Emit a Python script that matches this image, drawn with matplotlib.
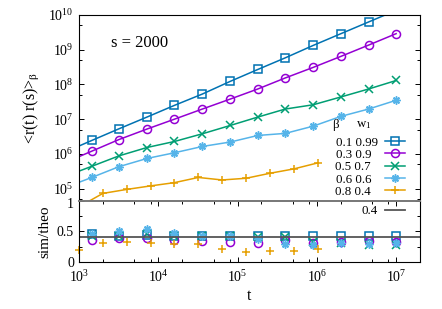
import matplotlib
matplotlib.use("Agg")
import matplotlib.pyplot as plt
import matplotlib.transforms as mtransforms
from matplotlib.ticker import LogLocator, LogFormatterMathtext, MultipleLocator, NullFormatter

plt.rcParams['font.family'] = ['Liberation Serif', 'DejaVu Serif']
plt.rcParams['mathtext.fontset'] = 'custom'
plt.rcParams['mathtext.rm'] = 'Liberation Serif'
plt.rcParams['mathtext.it'] = 'Liberation Serif:italic'
plt.rcParams['font.size'] = 9

# data
t = [6.5e2, 1.45e3, 3.2e3, 7.2e3, 1.6e4, 3.6e4, 8.1e4, 1.8e5, 4.0e5, 9.0e5, 2.0e6, 4.5e6, 1.0e7]
corr_01 = [1.1e6, 2.44e6, 5.3e6, 1.15e7, 2.5e7, 5.3e7, 1.23e8, 2.7e8, 5.84e8, 1.33e9, 2.88e9, 6.3e9, 1.36e10]
corr_03 = [5.5e5, 1.2e6, 2.6e6, 5.2e6, 1.0e7, 1.96e7, 3.8e7, 7.4e7, 1.54e8, 3.1e8, 6.4e8, 1.36e9, 2.9e9]
corr_05 = [2.2e5, 4.4e5, 8.8e5, 1.53e6, 2.28e6, 3.8e6, 6.6e6, 1.15e7, 1.96e7, 2.6e7, 4.35e7, 7.4e7, 1.3e8]
corr_06 = [1.05e5, 2.1e5, 4.3e5, 7.4e5, 1.08e6, 1.64e6, 2.2e6, 3.4e6, 3.9e6, 6.3e6, 1.2e7, 1.96e7, 3.5e7]
t_08 = [1e3, 2e3, 4e3, 8e3, 1.6e4, 3.2e4, 6.4e4, 1.28e5, 2.56e5, 5.12e5, 1.024e6]
corr_08 = [3.0e4, 7.3e4, 9.5e4, 1.2e5, 1.49e5, 2.1e5, 1.78e5, 1.99e5, 2.77e5, 3.7e5, 5.5e5]

t_ratio = t[1:]
ratio_01 = [0.45, 0.43, 0.44, 0.43, 0.43, 0.43, 0.42, 0.43, 0.42, 0.42, 0.42, 0.42]
ratio_03 = [0.36, 0.39, 0.39, 0.36, 0.34, 0.33, 0.31, 0.36, 0.31, 0.33, 0.35, 0.33]
ratio_05 = [0.42, 0.43, 0.45, 0.42, 0.42, 0.42, 0.40, 0.40, 0.32, 0.31, 0.28, 0.28]
ratio_06 = [0.45, 0.50, 0.54, 0.47, 0.43, 0.42, 0.37, 0.30, 0.28, 0.31, 0.30, 0.31]
ratio_08 = [0.19, 0.31, 0.33, 0.31, 0.29, 0.30, 0.21, 0.17, 0.18, 0.18, 0.21]
theo = 0.4

labels = ["0.1 0.99", "0.3 0.9\u2007", "0.5 0.7\u2007", "0.6 0.6\u2007", "0.8 0.4\u2007"]
colors = ['#0072b2', '#9400d3', '#009e73', '#56b4e9', '#e69f00']
markers = ['s', 'o', 'x', (8, 2, 0), '+']

fig = plt.figure(figsize=(4.42, 3.09), dpi=100)
ax = fig.add_axes([0.1787, 0.3505, 0.7715, 0.601])
ax2 = fig.add_axes([0.1787, 0.152, 0.7715, 0.1985])

top_x = [t, t, t, t, t_08]
top_y = [corr_01, corr_03, corr_05, corr_06, corr_08]
bot_x = [t_ratio, t_ratio, t_ratio, t_ratio, t_08]
bot_y = [ratio_01, ratio_03, ratio_05, ratio_06, ratio_08]

handles = []
for xs, ys, c, m in zip(top_x, top_y, colors, markers):
    h, = ax.plot(xs, ys, color=c, marker=m, ms=5.8, mfc='none', mew=1.1, lw=1.1)
    handles.append(h)
for xs, ys, c, m in zip(bot_x, bot_y, colors, markers):
    ax2.plot(xs, ys, ls='none', color=c, marker=m, ms=5.8, mfc='none', mew=1.1, clip_on=False)
hl = ax2.axhline(theo, color='#555555', lw=1.3)

for a in (ax, ax2):
    a.set_xscale('log')
    a.set_xlim(1e3, 2e7)
    a.tick_params(which='both', direction='in', right=True, width=0.7)
    a.tick_params(which='major', length=3.5, labelsize=10)
    a.tick_params(which='minor', length=2)
    a.xaxis.set_major_locator(LogLocator(base=10, numticks=20))
    a.xaxis.set_minor_locator(LogLocator(base=10, subs=[2, 5, 8], numticks=20))

ax.set_yscale('log')
ax.set_ylim(4.5e4, 1e10)
ax.yaxis.set_major_locator(LogLocator(base=10, numticks=20))
ax.yaxis.set_minor_locator(LogLocator(base=10, subs=[5], numticks=20))
ax.yaxis.set_major_formatter(LogFormatterMathtext())
ax.yaxis.set_minor_formatter(NullFormatter())
ax.tick_params(which='both', bottom=False, labelbottom=False)
ax.tick_params(axis='y', pad=4)
ax.spines['bottom'].set_visible(False)

ax2.set_ylim(0, 1)
ax2.yaxis.set_major_locator(MultipleLocator(0.5))
ax2.yaxis.set_minor_locator(MultipleLocator(0.25))
ax2.yaxis.set_major_formatter(plt.FuncFormatter(lambda v, p: '%g' % v))
ax2.xaxis.set_major_formatter(LogFormatterMathtext())
ax2.xaxis.set_minor_formatter(NullFormatter())
ax2.tick_params(which='both', top=True)
ax2.tick_params(axis='x', pad=5)
ax2.spines['top'].set_color('#777777')
ax2.spines['top'].set_linewidth(1.4)

# nudge the "1" label a little down so it clears the 10^5 label above
fig.canvas.draw()
for lab in ax2.get_yticklabels():
    if lab.get_text() == '1':
        lab.set_transform(lab.get_transform() + mtransforms.ScaledTranslation(0, -2 / 72, fig.dpi_scale_trans))

ax.set_ylabel(r'<r(t) r(s)>$_\mathrm{β}$', fontsize=11.5, labelpad=5)
ax2.set_ylabel('sim/theo', fontsize=11)
ax2.set_xlabel('t', fontsize=11.5, labelpad=2)
fig.align_ylabels([ax, ax2])

ax.text(0.093, 0.849, 's = 2000', transform=ax.transAxes, fontsize=12, va='center')
ax.text(0.742, 0.405, 'β', transform=ax.transAxes, fontsize=9.3, va='center')
ax.text(0.812, 0.405, r'w$_\mathrm{1}$', transform=ax.transAxes, fontsize=9.3, va='center')

ax.legend(handles, labels, loc='upper right', bbox_to_anchor=(0.955, 0.345), frameon=False,
          markerfirst=False, fontsize=9.3, handlelength=1.5, handletextpad=0.6,
          labelspacing=0.02, borderpad=0, borderaxespad=0)
ax2.legend([hl], ['0.4'], loc='upper right', bbox_to_anchor=(0.955, 0.93), frameon=False,
           markerfirst=False, fontsize=9.3, handlelength=1.5, handletextpad=0.6,
           borderpad=0, borderaxespad=0)

fig.savefig('out.png', dpi=100)
